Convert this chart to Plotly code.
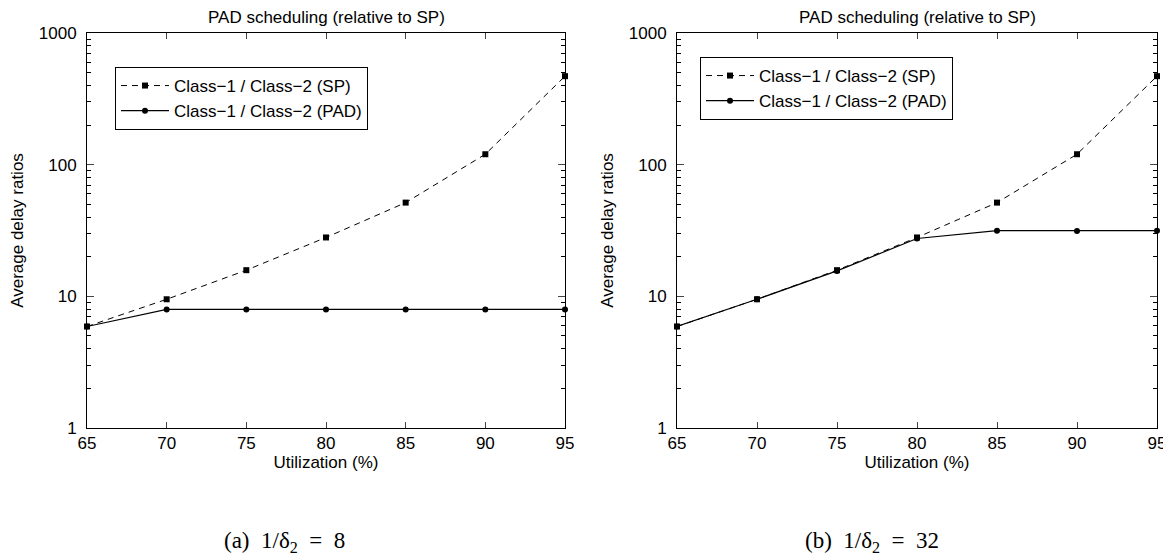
import plotly.graph_objects as go

utilization = [65, 70, 75, 80, 85, 90, 95]
sp_a = [5.9, 9.5, 15.8, 28, 51.5, 120, 470]
pad_a = [5.9, 7.95, 7.95, 7.95, 7.95, 7.95, 7.95]
sp_b = [5.9, 9.5, 15.8, 28, 51.5, 120, 470]
pad_b = [5.9, 9.5, 15.6, 27.5, 31.5, 31.3, 31.5]
x_ticks = [65, 70, 75, 80, 85, 90, 95]
y_ticks = [1, 10, 100, 1000]
y_minor = [m * d for d in (1, 10, 100) for m in range(2, 10)]
panel_title = "PAD scheduling (relative to SP)"
name_sp = "Class\u22121 / Class\u22122 (SP)"
name_pad = "Class\u22121 / Class\u22122 (PAD)"
NB = "\u00a0"
captions = [f"(a){NB}{NB}1/\u03b4<sub>2</sub>{NB}{NB}={NB}{NB}8",
            f"(b){NB}{NB}1/\u03b4<sub>2</sub>{NB}{NB}={NB}{NB}32"]

FONT = "Liberation Sans, Arial, sans-serif"
W, H = 1171, 555
OFF = 8  # page body margin
FW, FH = W - OFF, H - OFF


def px(x):
    return (x - OFF) / FW


def py(y):
    return 1 - (y - OFF) / FH


fig = go.Figure()

panels = [(sp_a, pad_a, "x", "y", "legend"), (sp_b, pad_b, "x2", "y2", "legend2")]
for sp, pad, xa, ya, lg in panels:
    fig.add_trace(go.Scatter(x=utilization, y=sp, mode="lines+markers", name=name_sp,
                             xaxis=xa, yaxis=ya, legend=lg, cliponaxis=False,
                             line=dict(color="black", width=1, dash="6px,5px"),
                             marker=dict(symbol="square", size=6, color="black")))
    fig.add_trace(go.Scatter(x=utilization, y=pad, mode="lines+markers", name=name_pad,
                             xaxis=xa, yaxis=ya, legend=lg, cliponaxis=False,
                             line=dict(color="black", width=1.2),
                             marker=dict(symbol="circle", size=6, color="black")))

xdoms = [[px(87), px(565)], [px(677), px(1157)]]
ydom = [py(428), py(33)]

common_x = dict(range=[65, 95], tickvals=x_ticks, ticks="inside", ticklen=6,
                showline=True, linecolor="black", linewidth=1, mirror="ticks",
                showgrid=False, zeroline=False, automargin=False,
                tickfont=dict(size=17, color="black"), ticklabelstandoff=0,
                title=dict(text="Utilization (%)", font=dict(size=17, color="black"), standoff=2))
common_y = dict(type="log", range=[0, 3], tickvals=y_ticks, ticktext=[str(v) for v in y_ticks],
                ticks="inside", ticklen=7,
                minor=dict(ticks="inside", ticklen=4, tickcolor="black", tickvals=y_minor,
                           showgrid=False),
                showline=True, linecolor="black", linewidth=1, mirror="ticks",
                showgrid=False, zeroline=False, automargin=False,
                tickfont=dict(size=17, color="black"), ticklabelstandoff=6,
                title=dict(text="Average delay ratios", font=dict(size=17, color="black"), standoff=10))

legend_style = dict(xanchor="left", yanchor="top", bordercolor="black", borderwidth=1,
                    bgcolor="white", font=dict(size=17, color="black"), tracegroupgap=0,
                    itemwidth=48)

fig.update_layout(
    width=FW, height=FH,
    margin=dict(l=0, r=0, t=0, b=0),
    paper_bgcolor="white", plot_bgcolor="white",
    font=dict(family=FONT, color="black"),
    xaxis=dict(domain=xdoms[0], anchor="y", **common_x),
    yaxis=dict(domain=ydom, anchor="x", **common_y),
    xaxis2=dict(domain=xdoms[1], anchor="y2", **common_x),
    yaxis2=dict(domain=ydom, anchor="x2", **common_y),
    legend=dict(x=px(115), y=py(67), **legend_style),
    legend2=dict(x=px(700), y=py(57), **legend_style),
    showlegend=True,
)

title_cx = [326, 917]
cap_cx = [284, 872]
for i in range(2):
    fig.add_annotation(text=panel_title, x=px(title_cx[i]), y=py(18),
                       xref="paper", yref="paper", showarrow=False,
                       xanchor="center", yanchor="middle",
                       font=dict(size=17, color="black", family=FONT))
    fig.add_annotation(text=captions[i], x=px(cap_cx[i]), y=py(542), xref="paper", yref="paper",
                       showarrow=False, xanchor="center", yanchor="middle",
                       font=dict(size=23, color="black", family="Liberation Serif, DejaVu Serif, serif"))

fig.write_html("out.html")
